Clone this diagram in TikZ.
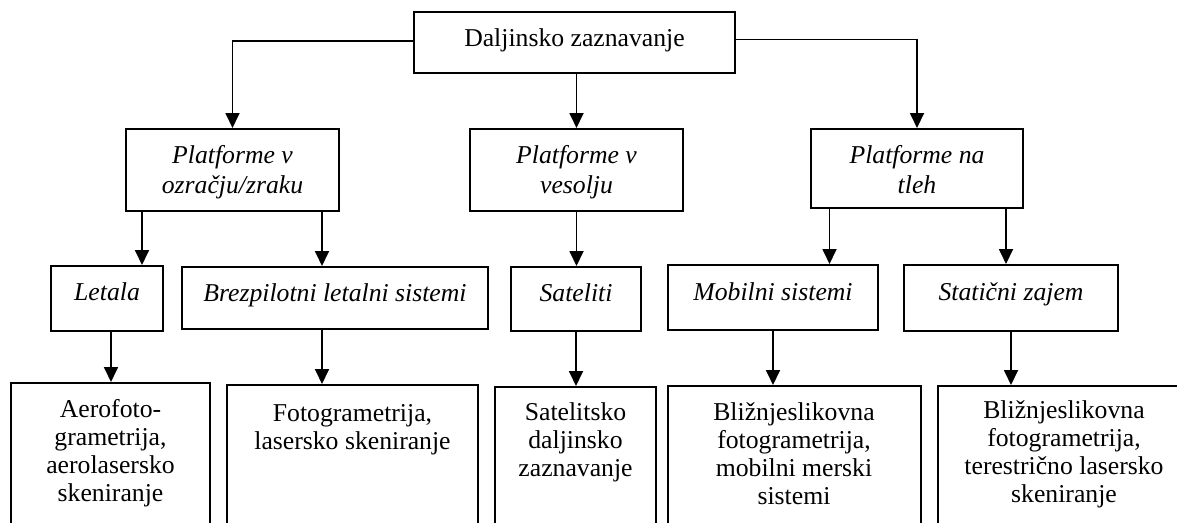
\documentclass[tikz,border=0pt]{standalone}
\usepackage{fontspec}
\setmainfont{Liberation Serif}
\usetikzlibrary{arrows.meta}
\begin{document}
\begin{tikzpicture}[x=1pt,y=-1pt,
  box/.style={draw=black, line width=2pt, inner sep=0pt, rectangle},
  txt/.style={inner sep=0pt, align=center, anchor=base},
  ital/.style={txt, font=\fontsize{25.7}{30}\selectfont\itshape},
  upr/.style={txt, font=\fontsize{25.7}{28}\selectfont},
  arr/.style={line width=1.8pt, -{Triangle[width=14pt,length=15pt]}}]
\useasboundingbox (0,0) rectangle (1177,522);
\clip (0,0) rectangle (1177,522);
% level 1
\node[box, minimum width=321pt, minimum height=61pt] (top) at (574.5,42.5) {};
\node[upr] (topT) at (574.5,46) {Daljinsko zaznavanje};
% level 2 (anchor = baseline of last line)
\node[box, minimum width=213pt, minimum height=82pt] (boxA) at (232.5,170) {};
\node[ital] (boxAT) at (232.5,193) {Platforme v\\ozračju/zraku};
\node[box, minimum width=213pt, minimum height=82pt] (boxB) at (576.5,170) {};
\node[ital] (boxBT) at (576.5,193) {Platforme v\\vesolju};
\node[box, minimum width=212pt, minimum height=79pt] (boxC) at (917,168.5) {};
\node[ital] (boxCT) at (917,193) {Platforme na\\tleh};
% level 3
\node[box, minimum width=112pt, minimum height=65pt] (letala) at (107,298.5) {};
\node[ital] (letalaT) at (107,300) {Letala};
\node[box, minimum width=306pt, minimum height=62pt] (brez) at (335,298) {};
\node[ital] (brezT) at (335,301) {Brezpilotni letalni sistemi};
\node[box, minimum width=130pt, minimum height=64pt] (sat) at (576,299) {};
\node[ital] (satT) at (576,301) {Sateliti};
\node[box, minimum width=210pt, minimum height=65pt] (mob) at (773,297.5) {};
\node[ital] (mobT) at (773,300) {Mobilni sistemi};
\node[box, minimum width=214pt, minimum height=66pt] (stat) at (1011,298) {};
\node[ital] (statT) at (1011,300) {Statični zajem};
% level 4
\node[box, minimum width=199pt, minimum height=160pt] (aero) at (110.5,463) {};
\node[upr] (aeroT) at (110.5,501) {Aerofoto-\\grametrija,\\aerolasersko\\skeniranje};
\node[box, minimum width=251pt, minimum height=158pt] (foto) at (352.5,464) {};
\node[upr] (fotoT) at (352.5,449) {Fotogrametrija,\\lasersko skeniranje};
\node[box, minimum width=161pt, minimum height=156pt] (satD) at (575.5,465) {};
\node[upr] (satDT) at (575.5,476) {Satelitsko\\daljinsko\\zaznavanje};
\node[box, minimum width=253pt, minimum height=157pt] (blA) at (794.5,464.5) {};
\node[upr] (blAT) at (794,504) {Bližnjeslikovna\\fotogrametrija,\\mobilni merski\\sistemi};
\node[box, minimum width=252pt, minimum height=157pt] (blB) at (1064,464.5) {};
\node[upr] (blBT) at (1064,502) {Bližnjeslikovna\\fotogrametrija,\\terestrično lasersko\\skeniranje};
% connectors
\draw[arr] ([yshift=1.5pt]top.west) -| (boxA.north);
\draw[arr] (boxB.north |- top.south) -- (boxB.north);
\draw[arr] ([yshift=3pt]top.east) -| (boxC.north);
\draw[arr] ([xshift=-90.5pt]boxA.south) -- ([xshift=-90.5pt]boxA.south |- letala.north);
\draw[arr] ([xshift=89.5pt]boxA.south) -- ([xshift=89.5pt]boxA.south |- brez.north);
\draw[arr] (boxB.south) -- (boxB.south |- sat.north);
\draw[arr] ([xshift=-87.5pt]boxC.south) -- ([xshift=-87.5pt]boxC.south |- mob.north);
\draw[arr] ([xshift=89pt]boxC.south) -- ([xshift=89pt]boxC.south |- stat.north);
\draw[arr] ([xshift=4pt]letala.south) -- ([xshift=4pt]letala.south |- aero.north);
\draw[arr] ([xshift=-13pt]brez.south) -- ([xshift=-13pt]brez.south |- foto.north);
\draw[arr] (sat.south) -- (sat.south |- satD.north);
\draw[arr] (mob.south) -- (mob.south |- blA.north);
\draw[arr] (stat.south) -- (stat.south |- blB.north);
\end{tikzpicture}
\end{document}
